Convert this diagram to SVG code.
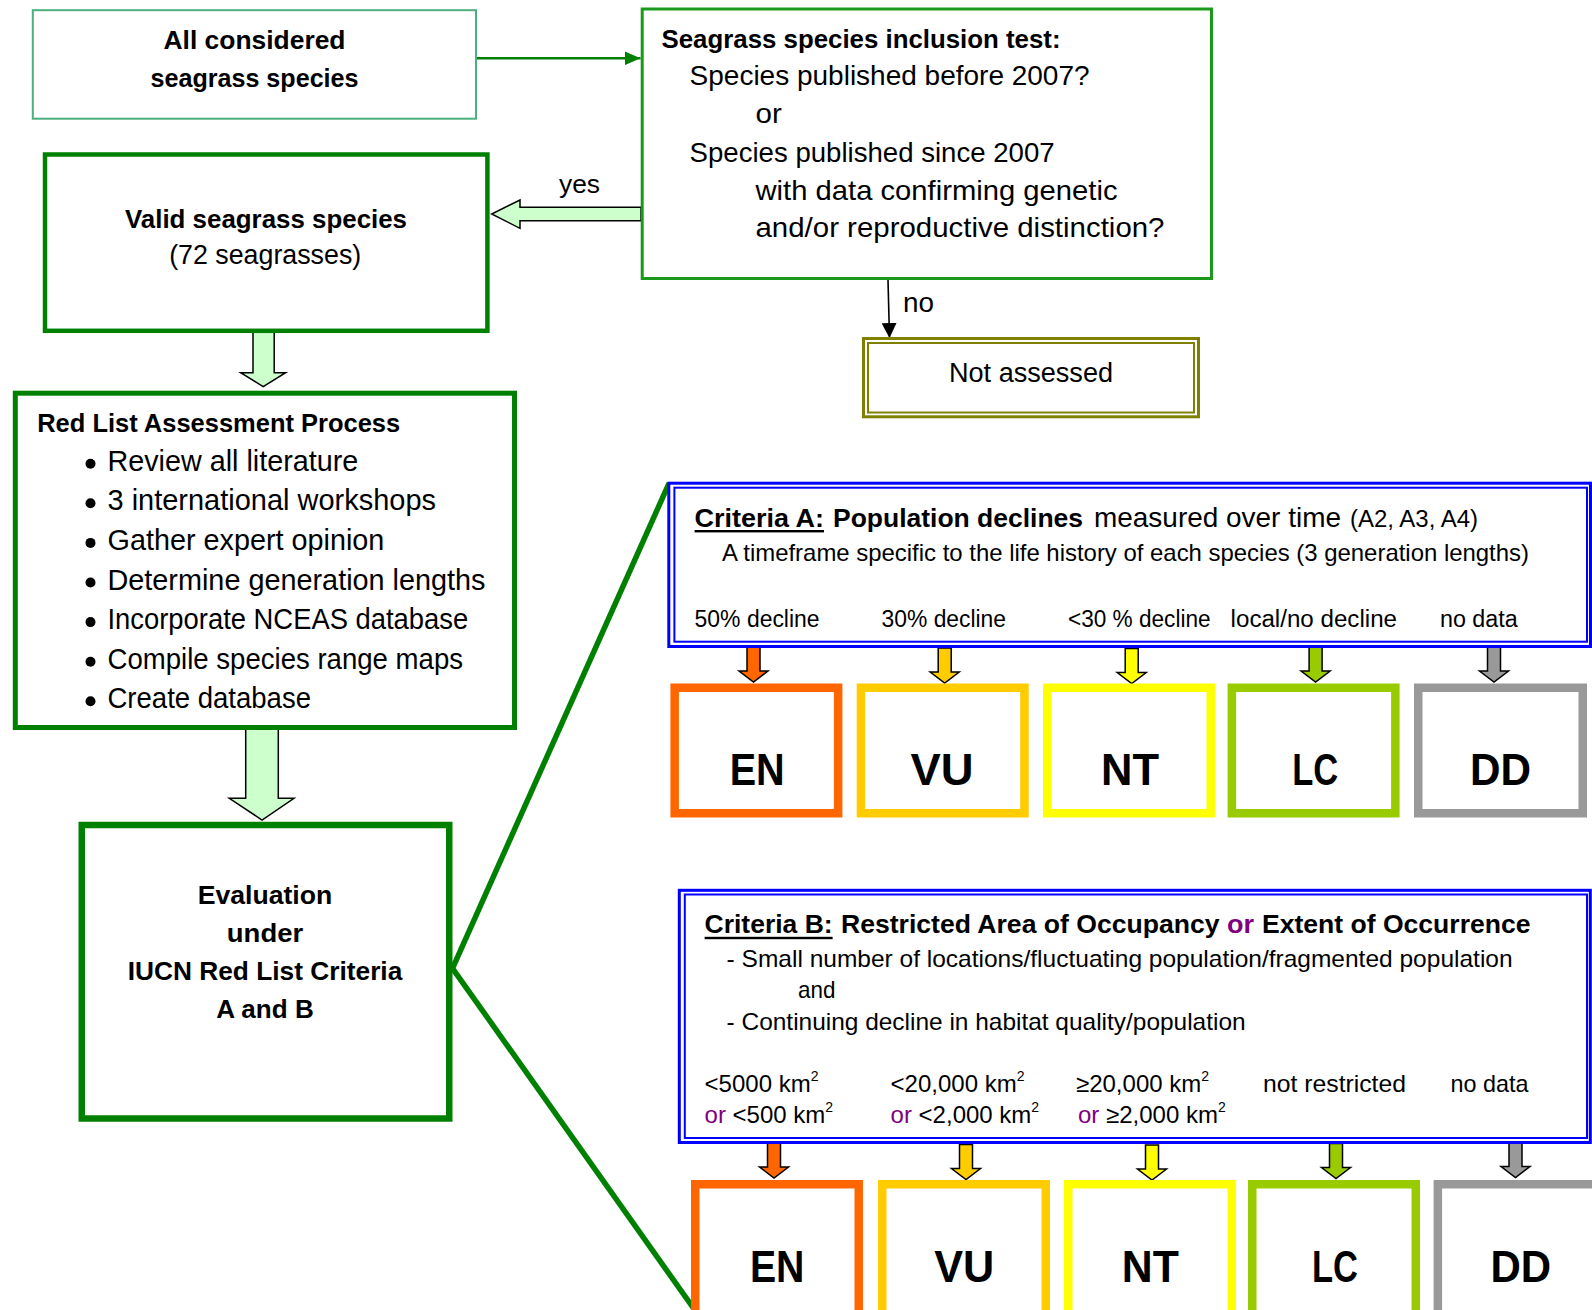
<svg xmlns="http://www.w3.org/2000/svg" width="1592" height="1310" viewBox="0 0 1592 1310">
<style>
text{font-family:"Liberation Sans",Arial,sans-serif;fill:#000}
.b{font-weight:bold}
.s23{font-size:23.5px}
.s24{font-size:24px}
.s26{font-size:26px}
.s265{font-size:26.5px}
.s27{font-size:27px}
.s28{font-size:28px}
.s29{font-size:28.8px}
.cat{font-size:45px;font-weight:bold}
.pur{fill:#800080}
.thick{fill:#fff;stroke:#008000}
.blue{fill:none;stroke:#0000ff}
.cbox{fill:#fff;stroke-width:8.5}
.hollow{fill:#ccffcc;stroke:#000;stroke-width:1.5;stroke-linejoin:miter}
.sa{stroke:#000;stroke-width:1.5}
</style>
<defs>
<marker id="gArrow" markerWidth="16" markerHeight="14" refX="16" refY="7" orient="auto" markerUnits="userSpaceOnUse"><path d="M0,0 L16,7 L0,14 Z" fill="#008000"/></marker>
<marker id="kArrow" markerWidth="15" markerHeight="15" refX="15" refY="7.5" orient="auto" markerUnits="userSpaceOnUse"><path d="M0,0 L15,7.5 L0,15 Z" fill="#000"/></marker>
<path id="sa" class="sa" d="M-6.5,0 H6.5 V24 H14.5 L0,35 L-14.5,24 H-6.5 Z"/>
</defs>

<g id="connectors">
<line x1="477" y1="58.3" x2="640.5" y2="58.3" stroke="#008000" stroke-width="2.5" marker-end="url(#gArrow)"/>
<path class="hollow" d="M641,207.3 H520 V200 L491.7,214 L520,228.3 V220.7 H641 Z"/>
<line x1="888" y1="280" x2="889.5" y2="338" stroke="#000" stroke-width="1.6" marker-end="url(#kArrow)"/>
<text class="s26" x="559" y="193" textLength="41" lengthAdjust="spacingAndGlyphs">yes</text>
<text class="s28" x="903" y="311.7" textLength="31" lengthAdjust="spacingAndGlyphs">no</text>
<path class="hollow" d="M253,331 H274.2 V372.7 H285.6 L263.2,386.7 L240.7,372.7 H253 Z"/>
<path class="hollow" d="M245.7,728 H278.3 V798.3 H294 L262,820 L229.3,798.3 H245.7 Z"/>
<line x1="452.5" y1="968.3" x2="669" y2="483.3" stroke="#008000" stroke-width="5.5"/>
<line x1="452.5" y1="968.3" x2="695.5" y2="1311" stroke="#008000" stroke-width="5.5"/>
<use href="#sa" x="753.5" y="647" fill="#ff6600"/>
<use href="#sa" x="944.7" y="648" fill="#ffcc00"/>
<use href="#sa" x="1131.7" y="648.5" fill="#ffff00"/>
<use href="#sa" x="1315.6" y="647" fill="#99cc00"/>
<use href="#sa" x="1494" y="647" fill="#999999"/>
<use href="#sa" x="774" y="1143" fill="#ff6600"/>
<use href="#sa" x="966" y="1144.5" fill="#ffcc00"/>
<use href="#sa" x="1152" y="1145" fill="#ffff00"/>
<use href="#sa" x="1336" y="1143.5" fill="#99cc00"/>
<use href="#sa" x="1515.5" y="1142.5" fill="#999999"/>
</g>

<g id="node-all">
<rect x="32.8" y="10.2" width="443.2" height="108.5" fill="#fff" stroke="#4caf7d" stroke-width="2"/>
<text class="b s26" x="254.5" y="48.5" text-anchor="middle" textLength="182" lengthAdjust="spacingAndGlyphs">All considered</text>
<text class="b s26" x="254.5" y="86.5" text-anchor="middle" textLength="208" lengthAdjust="spacingAndGlyphs">seagrass species</text>
</g>

<g id="node-test">
<rect x="642.2" y="9" width="569.3" height="269.5" fill="#fff" stroke="#1a991a" stroke-width="3"/>
<text class="b s26" x="661.5" y="48" textLength="399" lengthAdjust="spacingAndGlyphs">Seagrass species inclusion test:</text>
<text class="s28" x="689.6" y="85.3" textLength="400" lengthAdjust="spacingAndGlyphs">Species published before 2007?</text>
<text class="s28" x="755.5" y="123" textLength="26.3" lengthAdjust="spacingAndGlyphs">or</text>
<text class="s28" x="689.6" y="161.7" textLength="365" lengthAdjust="spacingAndGlyphs">Species published since 2007</text>
<text class="s28" x="755.5" y="199.5" textLength="362" lengthAdjust="spacingAndGlyphs">with data confirming genetic</text>
<text class="s28" x="755.5" y="237.3" textLength="409" lengthAdjust="spacingAndGlyphs">and/or reproductive distinction?</text>
</g>

<g id="node-valid">
<rect class="thick" x="45" y="154.5" width="442.4" height="176.3" stroke-width="4.5"/>
<text class="b s26" x="266" y="228.3" text-anchor="middle" textLength="282" lengthAdjust="spacingAndGlyphs">Valid seagrass species</text>
<text class="s27" x="265.2" y="264" text-anchor="middle" textLength="192" lengthAdjust="spacingAndGlyphs">(72 seagrasses)</text>
</g>

<g id="node-notassessed">
<rect x="863.5" y="338.5" width="335" height="78.3" fill="#fff" stroke="#808000" stroke-width="3"/>
<rect x="868" y="343" width="326" height="69.5" fill="none" stroke="#808000" stroke-width="2"/>
<text class="s27" x="1031" y="381.7" text-anchor="middle" textLength="164" lengthAdjust="spacingAndGlyphs">Not assessed</text>
</g>

<g id="node-redlist">
<rect class="thick" x="15.3" y="393.2" width="499.2" height="334.3" stroke-width="5"/>
<text class="b s26" x="37.2" y="432.3" textLength="363" lengthAdjust="spacingAndGlyphs">Red List Assessment Process</text>
<circle cx="90.5" cy="463.7" r="5"/>
<circle cx="90.5" cy="503.3" r="5"/>
<circle cx="90.5" cy="542.9" r="5"/>
<circle cx="90.5" cy="582.5" r="5"/>
<circle cx="90.5" cy="622.1" r="5"/>
<circle cx="90.5" cy="661.7" r="5"/>
<circle cx="90.5" cy="701.3" r="5"/>
<text class="s29" x="107.5" y="470.7" textLength="250.8" lengthAdjust="spacingAndGlyphs">Review all literature</text>
<text class="s29" x="107.5" y="510.3" textLength="328.5" lengthAdjust="spacingAndGlyphs">3 international workshops</text>
<text class="s29" x="107.5" y="549.9" textLength="276.8" lengthAdjust="spacingAndGlyphs">Gather expert opinion</text>
<text class="s29" x="107.5" y="589.5" textLength="378" lengthAdjust="spacingAndGlyphs">Determine generation lengths</text>
<text class="s29" x="107.5" y="629.1" textLength="360.7" lengthAdjust="spacingAndGlyphs">Incorporate NCEAS database</text>
<text class="s29" x="107.5" y="668.7" textLength="355.5" lengthAdjust="spacingAndGlyphs">Compile species range maps</text>
<text class="s29" x="107.5" y="708.3" textLength="203.5" lengthAdjust="spacingAndGlyphs">Create database</text>
</g>

<g id="node-evaluation">
<rect class="thick" x="81.75" y="825" width="367.5" height="293.5" stroke-width="6.5"/>
<text class="b s26" x="265" y="904" text-anchor="middle" textLength="134.6" lengthAdjust="spacingAndGlyphs">Evaluation</text>
<text class="b s26" x="265" y="941.7" text-anchor="middle" textLength="76.3" lengthAdjust="spacingAndGlyphs">under</text>
<text class="b s26" x="265" y="980" text-anchor="middle" textLength="274.6" lengthAdjust="spacingAndGlyphs">IUCN Red List Criteria</text>
<text class="b s26" x="265" y="1017.7" text-anchor="middle" textLength="97.5" lengthAdjust="spacingAndGlyphs">A and B</text>
</g>

<g id="node-criteriaA">
<rect x="668.8" y="483.2" width="921.7" height="163.3" fill="#fff" stroke="#0000ff" stroke-width="3"/>
<rect class="blue" x="674.4" y="487.7" width="912.6" height="154" stroke-width="2"/>
<text class="b s265" x="694.6" y="526.7" textLength="129.4" lengthAdjust="spacingAndGlyphs">Criteria A:</text>
<rect x="694.6" y="530" width="129.4" height="2.4"/>
<text class="b s265" x="833" y="526.7" textLength="250" lengthAdjust="spacingAndGlyphs">Population declines</text>
<text class="s28" x="1094" y="526.7" textLength="247" lengthAdjust="spacingAndGlyphs">measured over time</text>
<text class="s23" x="1350" y="526.7" textLength="128" lengthAdjust="spacingAndGlyphs">(A2, A3, A4)</text>
<text class="s24" x="722" y="560.7" textLength="807" lengthAdjust="spacingAndGlyphs">A timeframe specific to the life history of each species (3 generation lengths)</text>
<text class="s23" x="694.6" y="627.3" textLength="125" lengthAdjust="spacingAndGlyphs">50% decline</text>
<text class="s23" x="881.6" y="627.3" textLength="124.4" lengthAdjust="spacingAndGlyphs">30% decline</text>
<text class="s23" x="1068" y="627.3" textLength="142.6" lengthAdjust="spacingAndGlyphs">&lt;30 % decline</text>
<text class="s23" x="1230.6" y="627.3" textLength="166.4" lengthAdjust="spacingAndGlyphs">local/no decline</text>
<text class="s23" x="1440" y="627.3" textLength="77.7" lengthAdjust="spacingAndGlyphs">no data</text>
</g>

<g id="node-A-EN">
<rect class="cbox" x="674.65" y="687.75" width="163.5" height="125.5" stroke="#ff6600"/>
<text class="cat" x="757.2" y="785" text-anchor="middle" textLength="55" lengthAdjust="spacingAndGlyphs">EN</text>
</g>
<g id="node-A-VU">
<rect class="cbox" x="860.95" y="687.75" width="163.5" height="125.5" stroke="#ffcc00"/>
<text class="cat" x="942" y="785" text-anchor="middle" textLength="63" lengthAdjust="spacingAndGlyphs">VU</text>
</g>
<g id="node-A-NT">
<rect class="cbox" x="1047.25" y="687.75" width="163.5" height="125.5" stroke="#ffff00"/>
<text class="cat" x="1130" y="785" text-anchor="middle" textLength="58" lengthAdjust="spacingAndGlyphs">NT</text>
</g>
<g id="node-A-LC">
<rect class="cbox" x="1231.85" y="687.75" width="163.5" height="125.5" stroke="#99cc00"/>
<text class="cat" x="1315.3" y="785" text-anchor="middle" textLength="46" lengthAdjust="spacingAndGlyphs">LC</text>
</g>
<g id="node-A-DD">
<rect class="cbox" x="1418.25" y="687.75" width="164.5" height="125.5" stroke="#999999"/>
<text class="cat" x="1500.5" y="785" text-anchor="middle" textLength="61" lengthAdjust="spacingAndGlyphs">DD</text>
</g>

<g id="node-criteriaB">
<rect x="679.3" y="890.3" width="911" height="252.2" fill="#fff" stroke="#0000ff" stroke-width="3"/>
<rect class="blue" x="684.8" y="894.5" width="902.2" height="243.5" stroke-width="2"/>
<text class="b s265" x="704.6" y="933.3" textLength="128" lengthAdjust="spacingAndGlyphs">Criteria B:</text>
<rect x="704.6" y="936.8" width="128" height="2.4"/>
<text class="b s265" x="841" y="933.3" textLength="378.5" lengthAdjust="spacingAndGlyphs">Restricted Area of Occupancy</text>
<text class="b s265 pur" x="1227" y="933.3" textLength="27" lengthAdjust="spacingAndGlyphs">or</text>
<text class="b s265" x="1262" y="933.3" textLength="268.5" lengthAdjust="spacingAndGlyphs">Extent of Occurrence</text>
<text class="s24" x="726.6" y="966.7" textLength="786" lengthAdjust="spacingAndGlyphs">- Small number of locations/fluctuating population/fragmented population</text>
<text class="s24" x="798" y="998.3" textLength="37.4" lengthAdjust="spacingAndGlyphs">and</text>
<text class="s24" x="726.6" y="1030" textLength="519" lengthAdjust="spacingAndGlyphs">- Continuing decline in habitat quality/population</text>
<text class="s24" x="704.6" y="1091.7">&lt;5000 km<tspan font-size="14" dy="-11">2</tspan></text>
<text class="s24" x="890.6" y="1091.7">&lt;20,000 km<tspan font-size="14" dy="-11">2</tspan></text>
<text class="s24" x="1076" y="1091.7">≥20,000 km<tspan font-size="14" dy="-11">2</tspan></text>
<text class="s24" x="1263" y="1091.7" textLength="143" lengthAdjust="spacingAndGlyphs">not restricted</text>
<text class="s24" x="1450.6" y="1091.7" textLength="78" lengthAdjust="spacingAndGlyphs">no data</text>
<text class="s24" x="704.6" y="1123.3"><tspan class="pur">or</tspan> &lt;500 km<tspan font-size="14" dy="-11">2</tspan></text>
<text class="s24" x="890.6" y="1123.3"><tspan class="pur">or</tspan> &lt;2,000 km<tspan font-size="14" dy="-11">2</tspan></text>
<text class="s24" x="1078" y="1123.3"><tspan class="pur">or</tspan> ≥2,000 km<tspan font-size="14" dy="-11">2</tspan></text>
</g>

<g id="node-B-EN">
<rect class="cbox" x="695.25" y="1184.25" width="163.5" height="145" stroke="#ff6600"/>
<text class="cat" x="777.2" y="1281.7" text-anchor="middle" textLength="54.5" lengthAdjust="spacingAndGlyphs">EN</text>
</g>
<g id="node-B-VU">
<rect class="cbox" x="882.25" y="1184.25" width="163.5" height="145" stroke="#ffcc00"/>
<text class="cat" x="964.2" y="1281.7" text-anchor="middle" textLength="60" lengthAdjust="spacingAndGlyphs">VU</text>
</g>
<g id="node-B-NT">
<rect class="cbox" x="1068.25" y="1184.25" width="163.5" height="145" stroke="#ffff00"/>
<text class="cat" x="1150.3" y="1281.7" text-anchor="middle" textLength="57" lengthAdjust="spacingAndGlyphs">NT</text>
</g>
<g id="node-B-LC">
<rect class="cbox" x="1252.25" y="1184.25" width="163.5" height="145" stroke="#99cc00"/>
<text class="cat" x="1335" y="1281.7" text-anchor="middle" textLength="46" lengthAdjust="spacingAndGlyphs">LC</text>
</g>
<g id="node-B-DD">
<rect class="cbox" x="1437.85" y="1184.25" width="163.5" height="145" stroke="#999999"/>
<text class="cat" x="1520.7" y="1281.7" text-anchor="middle" textLength="60.6" lengthAdjust="spacingAndGlyphs">DD</text>
</g>
</svg>
